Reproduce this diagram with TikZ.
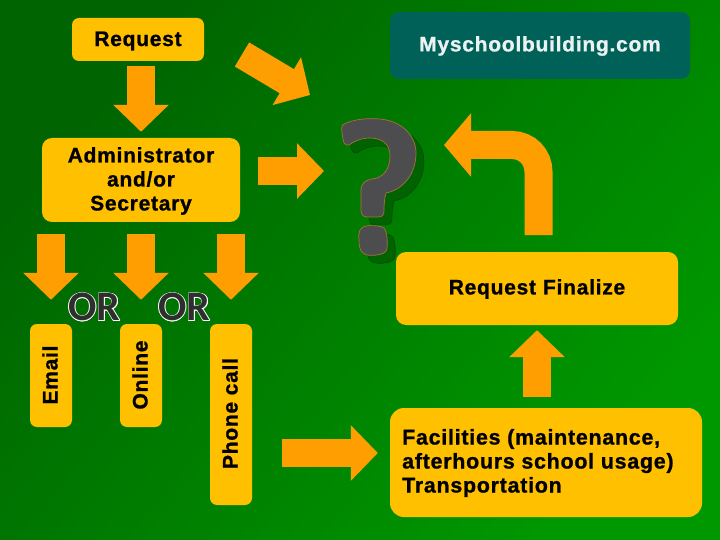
\documentclass[tikz,border=0pt]{standalone}
\usepackage{fontspec}
\usetikzlibrary{arrows.meta,calc}
\setmainfont[BoldFeatures={FakeBold=1,LetterSpace=3.5}]{Liberation Sans}
\newfontfamily\orfont{Carlito}
\definecolor{boxgold}{HTML}{FFC000}
\definecolor{arroworange}{HTML}{FF9E00}
\definecolor{darkteal}{HTML}{006158}
\definecolor{bgdark}{HTML}{006400}
\definecolor{bglight}{HTML}{009800}
\definecolor{qgray}{HTML}{4D4D4F}
\definecolor{qshadow}{HTML}{006200}
\definecolor{qedge}{HTML}{A8703A}
\tikzset{
  goldbox/.style={fill=boxgold,rounded corners=7pt,inner sep=0pt},
  label/.style={font=\fontsize{21}{24}\selectfont\bfseries,text=black,inner sep=0pt,align=center},
  blockarrow/.style={draw=arroworange,line width=28pt,line cap=butt,
     -{Triangle[length=27pt,width=54pt,fill=arroworange]}},
  hookarrow/.style={draw=arroworange,line width=28pt,line cap=butt,
     -{Triangle[length=27pt,width=62pt,fill=arroworange]}},
  orword/.style={font=\fontsize{42}{42}\selectfont\orfont\bfseries,inner sep=0pt}
}
\newcommand{\qbody}{
  (342.5,125) .. controls (352,119) and (368,118) .. (380,119)
  .. controls (402,121) and (416,136) .. (416,153)
  .. controls (416,175) and (402,190) .. (386,193)
  .. controls (384,200) and (384,208) .. (384,211)
  .. controls (384,215) and (382,217) .. (378,217)
  -- (367,217) .. controls (363,217) and (361,214) .. (361,211)
  -- (361,190) .. controls (361,183) and (366,180) .. (372,179)
  .. controls (384,178) and (390,168) .. (390,156)
  .. controls (390,144) and (382,138) .. (370,138)
  .. controls (362,138) and (354,141) .. (349,145)
  .. controls (345,146) and (343,142) .. (343,139)
  .. controls (342,133) and (341,128) .. (342.5,125) -- cycle
  (366,226) .. controls (374,225) and (381,226) .. (384,228)
  .. controls (388,232) and (388,250) .. (386,251)
  .. controls (384,255) and (372,256) .. (367,255)
  .. controls (362,254) and (359,250) .. (359,240)
  .. controls (358,232) and (360,227) .. (366,226) -- cycle
}
\begin{document}
\begin{tikzpicture}[x=1pt,y=-1pt]
\useasboundingbox (0,0) rectangle (720,540);
\shade[top color=bgdark,bottom color=bglight,shading angle=50] (0,0) rectangle (720,540);

% boxes
\node[goldbox,minimum width=132pt,minimum height=43pt] (req) at (138,39.5) {};
\node[label] (reqt) at (138,41) {Request};
\node[fill=darkteal,rounded corners=9pt,minimum width=300pt,minimum height=67pt,inner sep=0pt] (site) at (540,45.5) {};
\node[label,text=white!92!darkteal] (sitet) at (540,46) {Myschoolbuilding.com};
\node[goldbox,rounded corners=10pt,minimum width=198pt,minimum height=84pt] (admin) at (141,180) {};
\node[label] (admint) at (141,181) {Administrator\\and/or\\Secretary};

\node[goldbox,minimum width=42pt,minimum height=103pt] (email) at (51,375.5) {};
\node[goldbox,minimum width=42pt,minimum height=103pt] (online) at (141,375.5) {};
\node[goldbox,minimum width=42pt,minimum height=181pt] (phone) at (231,414.5) {};
\node[label,rotate=90] (emailt) at (50,375) {Email};
\node[label,rotate=90] (onlinet) at (140,375) {Online};
\node[label,rotate=90] (phonet) at (230,413.5) {Phone call};

\node[goldbox,rounded corners=10pt,minimum width=282pt,minimum height=73pt] (final) at (537,288.5) {};
\node[label] (finalt) at (537,289) {Request\,\,Finalize};
\node[goldbox,rounded corners=14pt,minimum width=312pt,minimum height=109pt] (fac) at (546,462.5) {};
\node[label,align=left,anchor=west,font=\fontsize{21.4}{24}\selectfont\bfseries] (fact) at (402,463) {Facilities (maintenance,\\afterhours school usage)\\Transportation};

% OR words
\foreach \n/\x in {or1/94.5,or2/184.5}{
  \foreach \a in {0,45,...,315}
    \node[orword,text=white] at ($(\x,307)+(\a:0.6pt)$) {OR};
  \node[orword,text=black!82] (\n) at (\x,307) {OR};
}

% question mark
\begin{scope}[shift={(8,8)}]
  \fill[qshadow,draw=qshadow!70!black,line width=0.4pt] \qbody;
\end{scope}
\fill[qgray,draw=qedge,line width=0.7pt] \qbody;
\coordinate (q) at (324,171);

% arrows
\draw[blockarrow] ([yshift=-5pt]req.south -| admin.north) -- ([yshift=6pt]admin.north);
\coordinate (dstart) at (242,54.5);
\coordinate (dend) at (310,95);
\draw[blockarrow] (dstart) -- (dend);
\draw[blockarrow] ($(admin.east)+(18,-9)$) -- (q);
\draw[blockarrow] ([yshift=-12pt]admin.south -| email.north) -- ([yshift=24pt]email.north);
\draw[blockarrow] ([yshift=-12pt]admin.south -| online.north) -- ([yshift=24pt]online.north);
\draw[blockarrow] ([yshift=-12pt]admin.south -| phone.north) -- ([yshift=24pt]phone.north);
\coordinate (hookstart) at (538.5,235);
\coordinate (hookend) at (444,145);
\draw[hookarrow] (hookstart) -- (538.5,172) .. controls (538.5,157) and (527,145) .. (512,145) -- (hookend);
\draw[blockarrow] ([yshift=11pt]fac.north -| final.south) -- ([yshift=-5pt]final.south);
\coordinate (brstart) at (282,453);
\draw[blockarrow] (brstart) -- ($(brstart -| fac.west)+(-12,0)$);
\end{tikzpicture}
\end{document}
